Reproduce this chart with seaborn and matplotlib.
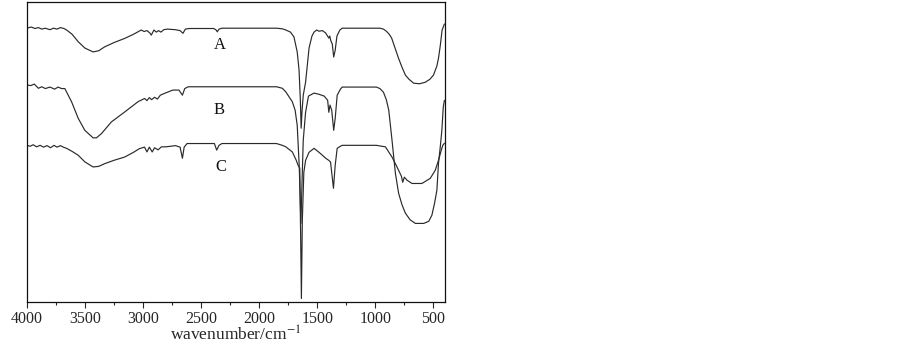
import numpy as np
import pandas as pd
import seaborn as sns
import matplotlib
matplotlib.use("Agg")
import matplotlib.pyplot as plt
from matplotlib.ticker import MultipleLocator

# wavenumber (cm-1) and transmittance-like values (arbitrary units)
WN_A = [4000, 3960, 3930, 3900, 3870, 3840, 3800, 3770, 3740, 3710, 3680, 3657, 3610, 3557,
        3500, 3429, 3380, 3329, 3250, 3157, 3080, 3014, 2990, 2965, 2940, 2928, 2905, 2885,
        2865, 2845, 2820, 2790, 2720, 2680, 2655, 2635, 2600, 2390, 2370, 2360, 2345, 2320,
        1850, 1800, 1770, 1730, 1700, 1672, 1656, 1645, 1638, 1630, 1620, 1600, 1585, 1570,
        1545, 1527, 1505, 1485, 1455, 1427, 1400, 1392, 1384, 1370, 1358, 1345, 1330, 1305,
        1285, 960, 930, 905, 880, 859, 830, 800, 770, 741, 710, 670, 620, 570, 530, 499,
        470, 456, 440, 425, 405]
T_A = [91.3, 91.7, 91.2, 91.5, 91.0, 91.3, 90.8, 91.3, 91.0, 91.5, 91.2, 90.7, 89.3, 86.8,
       84.7, 83.4, 83.8, 85.1, 86.5, 87.9, 89.3, 90.7, 90.2, 90.5, 89.7, 89.0, 90.7, 90.0,
       90.5, 90.0, 90.8, 91.0, 90.8, 90.5, 89.6, 91.0, 91.2, 91.2, 90.7, 90.1, 91.0, 91.3,
       91.3, 91.1, 90.7, 90.0, 88.4, 83.4, 77.3, 67.3, 58.0, 64.0, 69.0, 73.3, 79.0, 84.7,
       88.7, 90.0, 90.7, 90.3, 90.5, 89.7, 88.0, 88.7, 87.3, 86.0, 81.7, 84.0, 88.7, 90.7,
       91.3, 91.3, 91.0, 90.3, 89.3, 88.0, 84.7, 81.3, 78.3, 75.7, 74.3, 73.0, 72.8, 73.3,
       74.3, 75.7, 78.7, 81.3, 85.7, 90.7, 92.7]

WN_B = [4000, 3965, 3935, 3900, 3870, 3840, 3800, 3760, 3730, 3700, 3672, 3614, 3557, 3500,
        3429, 3400, 3357, 3271, 3157, 3043, 2986, 2965, 2945, 2925, 2900, 2875, 2850, 2814,
        2743, 2690, 2660, 2640, 2610, 1850, 1800, 1770, 1714, 1690, 1672, 1655, 1640, 1630,
        1620, 1600, 1575, 1527, 1485, 1440, 1410, 1400, 1390, 1375, 1358, 1345, 1328, 1300,
        1285, 990, 960, 930, 905, 884, 856, 827, 799, 770, 741, 700, 655, 584, 540, 513,
        490, 470, 456, 441, 427, 415, 405]
T_B = [72.4, 72.2, 72.7, 71.3, 71.8, 71.2, 71.7, 71.0, 71.7, 71.2, 71.2, 66.8, 61.3, 57.3,
       54.8, 54.8, 56.2, 60.1, 63.4, 66.8, 67.9, 67.2, 68.2, 67.5, 68.3, 67.7, 69.0, 69.6,
       70.7, 70.7, 69.0, 71.2, 71.8, 71.8, 71.3, 70.1, 66.8, 64.0, 59.0, 45.7, 26.3, 40.7,
       54.0, 63.3, 68.7, 69.7, 69.3, 68.7, 67.3, 63.3, 65.7, 64.0, 57.3, 61.3, 69.0, 71.0,
       71.7, 71.7, 71.2, 70.0, 67.5, 64.0, 54.0, 43.0, 36.3, 32.5, 29.7, 27.5, 26.3, 26.3,
       27.0, 29.0, 33.0, 37.3, 46.3, 51.7, 57.3, 65.0, 67.3]

WN_C = [4000, 3970, 3945, 3915, 3885, 3855, 3825, 3795, 3765, 3740, 3710, 3685, 3657, 3610,
        3557, 3500, 3429, 3380, 3329, 3250, 3157, 3080, 3030, 2986, 2965, 2945, 2920, 2900,
        2870, 2840, 2800, 2720, 2680, 2660, 2645, 2620, 2385, 2365, 2345, 2320, 1850, 1800,
        1770, 1714, 1680, 1665, 1650, 1642, 1636, 1628, 1615, 1600, 1570, 1527, 1485, 1455,
        1427, 1400, 1385, 1360, 1345, 1328, 1300, 1285, 990, 960, 913, 856, 813, 775, 764,
        750, 727, 684, 599, 527, 484, 456, 432, 419, 405]
T_C = [52.3, 52.0, 52.5, 51.8, 52.3, 51.7, 52.2, 51.5, 52.3, 51.7, 52.2, 51.7, 51.3, 50.3,
       49.0, 46.8, 45.1, 45.3, 46.2, 47.3, 48.4, 50.0, 51.2, 51.7, 50.1, 51.7, 50.1, 51.5,
       50.8, 51.8, 51.8, 52.2, 51.7, 48.0, 51.7, 52.9, 52.9, 50.7, 52.3, 52.9, 52.9, 52.3,
       51.8, 50.1, 47.3, 45.7, 44.7, 20.7, 1.3, 27.3, 43.3, 47.3, 50.0, 51.3, 50.0, 49.0,
       48.0, 47.3, 46.7, 38.0, 45.7, 51.3, 52.0, 52.3, 52.3, 52.1, 51.8, 48.4, 45.1, 42.0,
       40.0, 41.7, 40.7, 39.6, 39.6, 41.3, 44.0, 47.3, 50.7, 52.3, 53.0]

SAMPLES = ["A", "B", "C"]
LABEL_POS = {"A": (2342, 85.7), "B": (2342, 64.0), "C": (2325, 45.0)}
XTICKS = [4000, 3500, 3000, 2500, 2000, 1500, 1000, 500]

df = pd.concat([
    pd.DataFrame({"wavenumber": WN_A, "T": T_A, "sample": "A"}),
    pd.DataFrame({"wavenumber": WN_B, "T": T_B, "sample": "B"}),
    pd.DataFrame({"wavenumber": WN_C, "T": T_C, "sample": "C"}),
], ignore_index=True)

sns.set_style("ticks")
plt.rcParams["font.family"] = ["Liberation Serif", "DejaVu Serif"]
plt.rcParams["mathtext.fontset"] = "stix"

fig = plt.figure(figsize=(9.03, 3.46), dpi=100)
ax = fig.add_axes([0.0296, 0.126, 0.4632, 0.868])

sns.lineplot(data=df, x="wavenumber", y="T", hue="sample", units="sample",
             estimator=None, sort=False, palette=["#2a2a2a"] * 3,
             linewidth=0.85, legend=False, ax=ax)

for s in SAMPLES:
    x, y = LABEL_POS[s]
    ax.text(x, y, s, fontsize=12, ha="center", va="center", color="#111111")

ax.set_xlim(4000, 400)
ax.set_ylim(0, 100)
ax.set_xticks(XTICKS)
ax.set_xticklabels([str(t) for t in XTICKS], fontsize=11.5)
ax.xaxis.set_minor_locator(MultipleLocator(250))
ax.tick_params(axis="x", which="major", direction="out", length=4, width=0.8, pad=2)
ax.tick_params(axis="x", which="minor", direction="out", length=2.5, width=0.8)
ax.set_yticks([])
ax.set_ylabel("")
ax.set_xlabel("wavenumber/cm$^{-1}$", fontsize=12.5, labelpad=-1)
for sp in ax.spines.values():
    sp.set_linewidth(0.9)
    sp.set_color("#111111")

plt.savefig("out.png", dpi=100)
